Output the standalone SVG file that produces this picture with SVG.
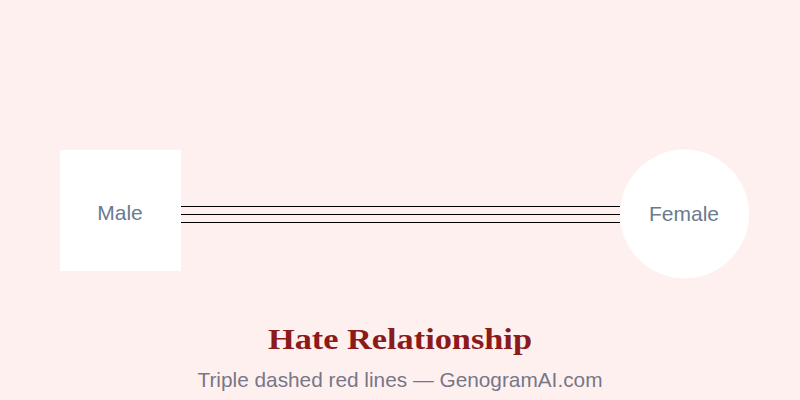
<svg xmlns="http://www.w3.org/2000/svg" width="800" height="400" viewBox="0 0 800 400">
<style>
.node{fill:#ffffff;}
.lbl{font-family:"Liberation Sans",Arial,sans-serif;font-size:21px;fill:#6b7a90;text-anchor:middle;}
.rel{stroke:#000000;stroke-width:1;fill:none;}
.title{font-family:"Liberation Serif",Georgia,"Times New Roman",serif;font-size:30px;font-weight:bold;fill:#8b1a1a;text-anchor:middle;}
.sub{font-family:"Liberation Sans",Arial,sans-serif;font-size:20.8px;fill:#777788;text-anchor:middle;}
</style>
<rect width="800" height="400" fill="#fff0f0"/>
<g id="connectors">
<line class="rel" x1="180" y1="206.5" x2="620" y2="206.5"/>
<line class="rel" x1="180" y1="214.5" x2="620" y2="214.5"/>
<line class="rel" x1="180" y1="222.5" x2="620" y2="222.5"/>
</g>
<g id="male">
<rect class="node" x="60" y="150" width="121" height="121"/>
<text class="lbl" x="120" y="220">Male</text>
</g>
<g id="female">
<circle class="node" cx="684.5" cy="214" r="64.5"/>
<text class="lbl" x="684" y="221">Female</text>
</g>
<text class="title" x="400" y="349" textLength="264" lengthAdjust="spacingAndGlyphs">Hate Relationship</text>
<text class="sub" x="400" y="387">Triple dashed red lines — GenogramAI.com</text>
</svg>
